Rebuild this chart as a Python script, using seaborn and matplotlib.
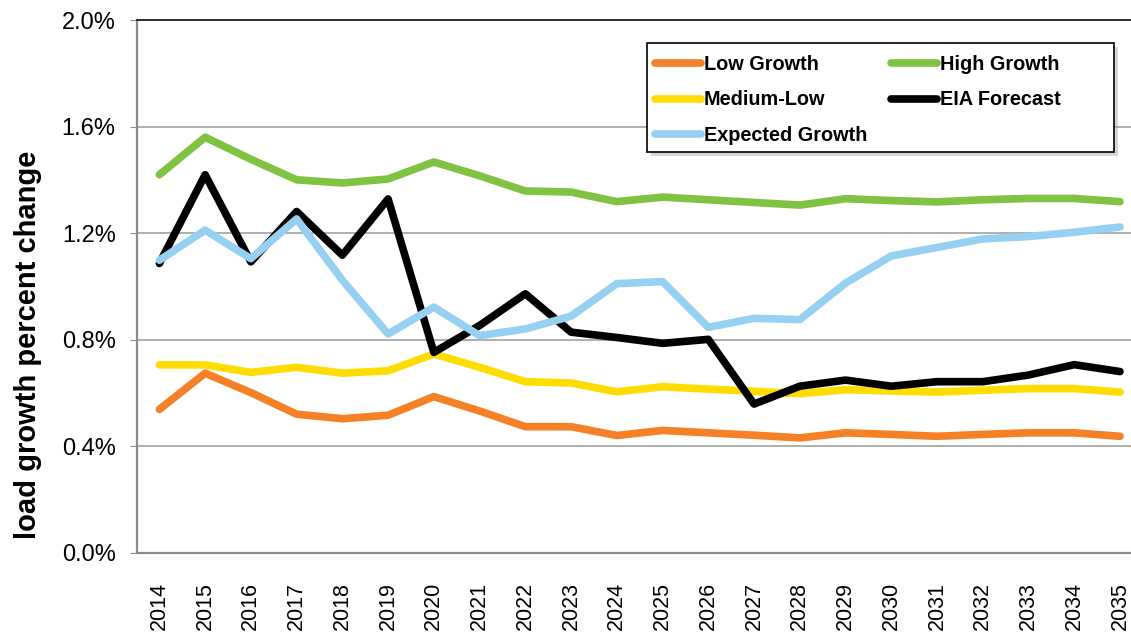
import pandas as pd
import numpy as np
import matplotlib.pyplot as plt
import seaborn as sns
from matplotlib.ticker import PercentFormatter
from matplotlib.patches import Rectangle

years = list(range(2014, 2036))

low_growth = [0.538, 0.674, 0.601, 0.520, 0.503, 0.516, 0.586, 0.532, 0.473, 0.473, 0.440,
              0.459, 0.450, 0.441, 0.431, 0.450, 0.444, 0.437, 0.444, 0.450, 0.450, 0.437]
medium_low = [0.705, 0.705, 0.677, 0.696, 0.674, 0.683, 0.746, 0.696, 0.642, 0.637, 0.604,
              0.623, 0.614, 0.606, 0.597, 0.612, 0.607, 0.603, 0.610, 0.616, 0.616, 0.603]
high_growth = [1.419, 1.560, 1.477, 1.400, 1.388, 1.403, 1.467, 1.415, 1.358, 1.354, 1.318,
               1.335, 1.325, 1.315, 1.305, 1.329, 1.322, 1.317, 1.325, 1.330, 1.330, 1.318]
eia_forecast = [1.086, 1.419, 1.092, 1.281, 1.117, 1.328, 0.752, 0.853, 0.972, 0.828, 0.808,
                0.786, 0.801, 0.558, 0.625, 0.648, 0.625, 0.642, 0.642, 0.667, 0.706, 0.680]
expected_growth = [1.098, 1.211, 1.104, 1.253, 1.023, 0.821, 0.922, 0.815, 0.840, 0.888, 1.010,
                   1.018, 0.846, 0.880, 0.875, 1.012, 1.114, 1.146, 1.178, 1.187, 1.203, 1.223]

# drawing order (later = on top)
series = {
    'Medium-Low': medium_low,
    'Low Growth': low_growth,
    'High Growth': high_growth,
    'EIA Forecast': eia_forecast,
    'Expected Growth': expected_growth,
}
colors = {
    'Low Growth': '#F58025',
    'High Growth': '#80C241',
    'Medium-Low': '#FFDD00',
    'EIA Forecast': '#000000',
    'Expected Growth': '#97D1F1',
}

df = pd.DataFrame([
    {'Year': y, 'Scenario': name, 'Growth': v}
    for name, vals in series.items() for y, v in zip(years, vals)
])

sns.set_style('white')
plt.rcParams['font.family'] = ['Liberation Sans', 'DejaVu Sans']
plt.rcParams['text.color'] = 'black'
plt.rcParams['xtick.color'] = 'black'
plt.rcParams['ytick.color'] = 'black'
plt.rcParams['axes.labelcolor'] = 'black'

fig = plt.figure(figsize=(11.31, 6.33), dpi=100)
ax = fig.add_axes([0.1207, 0.1269, 0.8898, 0.8415])

sns.lineplot(data=df, x='Year', y='Growth', hue='Scenario', hue_order=list(series.keys()),
             palette=colors, linewidth=5.5, legend=False, ax=ax,
             solid_capstyle='round', solid_joinstyle='round')

ax.set_xlim(2013.5, 2035.5)
ax.set_ylim(0, 2.0)
ax.set_yticks(np.arange(0, 2.01, 0.4))
ax.yaxis.set_major_formatter(PercentFormatter(decimals=1))
ax.set_xticks(years)
ax.set_xticklabels([str(y) for y in years], rotation=90)
ax.tick_params(axis='y', labelsize=17, length=5, color='#8c8c8c', pad=10, direction='out', left=True)
ax.tick_params(axis='x', labelsize=15.5, length=0, pad=21)
ax.grid(axis='y', color='#999999', linewidth=1.1)
ax.grid(axis='x', visible=False)
ax.set_axisbelow(True)

for side in ['left', 'bottom']:
    ax.spines[side].set_color('#8c8c8c')
    ax.spines[side].set_linewidth(1.6)
ax.spines['top'].set_color('#222222')
ax.spines['top'].set_linewidth(1.3)
ax.spines['right'].set_visible(False)

ax.set_xlabel('')
ax.set_ylabel('load growth percent change', fontsize=21, fontweight='bold')
ax.yaxis.set_label_coords(-0.094, 0.39)

# legend box with shadow, drawn by hand so it can be wider than its contents
W, H = 1131, 633
bx0, by0, bx1, by1 = 647, 43, 1114, 152
fig.patches.append(Rectangle(((bx0 + 4) / W, 1 - (by1 + 4) / H), (bx1 - bx0) / W, (by1 - by0) / H,
                             transform=fig.transFigure, facecolor='0.65', alpha=0.45,
                             edgecolor='none', zorder=5))
fig.patches.append(Rectangle((bx0 / W, 1 - by1 / H), (bx1 - bx0) / W, (by1 - by0) / H,
                             transform=fig.transFigure, facecolor='white',
                             edgecolor='black', linewidth=1.2, zorder=6))

names = ['Low Growth', 'Medium-Low', 'Expected Growth', 'High Growth', 'EIA Forecast']
lines = [plt.Line2D([], [], color=colors[n], linewidth=5.5, solid_capstyle='round') for n in names]
leg = fig.legend(lines, names, ncol=2, loc='upper left', bbox_to_anchor=(655 / W, 1 - 55 / H),
                 prop={'weight': 'bold', 'size': 14.3}, frameon=False,
                 handlelength=2.3, handletextpad=0.15, columnspacing=1.2,
                 labelspacing=0.83, borderpad=0, borderaxespad=0)
leg.set_zorder(7)

fig.savefig('out.png', dpi=100)
